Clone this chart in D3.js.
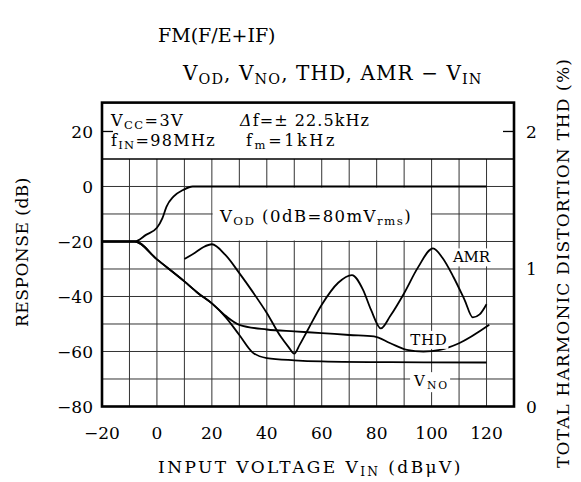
<!DOCTYPE html>
<html>
<head>
<meta charset="utf-8">
<script src="https://cdn.jsdelivr.net/npm/d3@7"></script>
<style>
  body { margin: 0; background: #fff; }
  text { font-family: "DejaVu Serif", serif; fill: #000; }
</style>
</head>
<body>
<svg id="chart" width="581" height="482"></svg>
<script>
// Input voltage axis (dBµV)
const xTicks = [-20, 0, 20, 40, 60, 80, 100, 120];
// Response axis (dB)
const yTicks = [20, 0, -20, -40, -60, -80];
// THD axis (%)
const thdTicks = [0, 1, 2];

// Detector output V_OD (dB, 0 dB = 80 mVrms)
const vodVin = [-20, -8, -4, 0, 2, 3.5, 6, 9.5, 13, 20, 40, 60, 80, 100, 120];
const vodDb  = [-20, -20, -17.6, -15, -11.5, -7.3, -3.7, -1.3, 0, 0, 0, 0, 0, 0, 0];

// Noise output V_NO (dB)
const vnoVin = [-20, -8, 0, 10, 15, 20, 25, 30, 35, 40, 50, 60, 85, 120];
const vnoDb  = [-20, -20, -26.5, -34.5, -38.8, -42.5, -47.5, -54, -60.5, -62.4, -63.2, -63.6, -63.9, -64];

// Total harmonic distortion THD (%)
const thdVin = [-20, -8, 0, 10, 15, 20, 25, 30, 40, 50, 60, 70, 79, 85, 91, 97, 103, 110, 121];
const thdPct = [1.2, 1.2, 1.07, 0.91, 0.824, 0.75, 0.66, 0.594, 0.56, 0.546, 0.534, 0.52, 0.51, 0.46, 0.412, 0.40, 0.412, 0.46, 0.594];

// AM rejection AMR (dB)
const amrVin = [10, 14, 17, 20, 25, 30, 35, 40, 45, 48, 50, 52, 55, 60, 66, 71, 75, 78, 81.5, 85, 90, 95, 100.5, 104, 108, 112, 115, 117.5, 120];
const amrDb  = [-26.4, -24, -22, -21, -25, -31.5, -38.5, -46, -54.5, -58.5, -60.8, -57.5, -52, -43, -35, -32.2, -37.5, -45, -51.6, -47, -38.8, -29.5, -22.5, -26, -33, -41.2, -47.6, -46.5, -42.8];

const svg = d3.select("#chart");

const x = d3.scaleLinear().domain([-20, 130]).range([102, 514]);
const y = d3.scaleLinear().domain([-80, 30.5]).range([406.5, 102.6]);
const yThd = d3.scaleLinear().domain([0, 2]).range([y(-80), y(20)]);

const frameL = x(-20), frameR = x(130), frameT = y(30.5), frameB = y(-80);

// Spread a text's glyphs so the run covers a given width
function fit(t, w) {
  const n = t.text().length;
  const cur = t.node().getComputedTextLength();
  t.attr("letter-spacing", ((w - cur) / n).toFixed(2));
  return t;
}

// Text with subscript pieces
function rich(g, parts, attrs) {
  const t = g.append("text");
  Object.entries(attrs).forEach(([k, v]) => t.attr(k, v));
  parts.forEach(p => {
    const s = t.append("tspan").text(p.t);
    if (p.sub) s.attr("font-size", "0.72em").attr("dy", "0.28em");
    if (p.back) s.attr("dy", "-0.2em");
    if (p.it) s.attr("font-style", "italic");
  });
  return t;
}

// Grid
const grid = svg.append("g").attr("stroke", "#333").attr("stroke-width", 1);
d3.range(-10, 130, 10).forEach(v => {
  grid.append("line").attr("x1", x(v)).attr("x2", x(v)).attr("y1", y(10)).attr("y2", frameB);
});
d3.range(-70, 10, 10).forEach(v => {
  grid.append("line").attr("x1", frameL).attr("x2", frameR).attr("y1", y(v)).attr("y2", y(v));
});
// Rule under the condition block
svg.append("line").attr("x1", frameL).attr("x2", frameR).attr("y1", y(10)).attr("y2", y(10))
  .attr("stroke", "#000").attr("stroke-width", 1.6);

// White panel behind the V_OD caption
svg.append("rect")
  .attr("x", x(20) + 0.8).attr("y", y(0) + 1)
  .attr("width", x(100) - x(20) - 1.6).attr("height", y(-20) - y(0) - 2)
  .attr("fill", "#fff");

// Frame
svg.append("rect").attr("x", frameL).attr("y", frameT).attr("width", frameR - frameL).attr("height", frameB - frameT)
  .attr("fill", "none").attr("stroke", "#000").attr("stroke-width", 2.6);

// Inward ticks at 20 dB / 2 %
svg.append("line").attr("x1", frameL).attr("x2", frameL + 11).attr("y1", y(20)).attr("y2", y(20)).attr("stroke", "#000").attr("stroke-width", 1.3);
svg.append("line").attr("x1", frameR - 11).attr("x2", frameR).attr("y1", yThd(2)).attr("y2", yThd(2)).attr("stroke", "#000").attr("stroke-width", 1.3);

// Tick labels
const fmt = v => (v < 0 ? "\u2212" + Math.abs(v) : String(v));
svg.append("g").selectAll("text").data(yTicks).join("text")
  .attr("x", frameL - 9).attr("y", d => y(d)).attr("dy", "0.36em")
  .attr("text-anchor", "end").attr("font-size", 17).text(fmt);
svg.append("g").selectAll("text").data(xTicks).join("text")
  .attr("x", d => x(d)).attr("y", frameB + 32)
  .attr("text-anchor", "middle").attr("font-size", 17).text(fmt);
svg.append("g").selectAll("text").data(thdTicks).join("text")
  .attr("x", frameR + 12).attr("y", d => yThd(d)).attr("dy", "0.36em")
  .attr("text-anchor", "start").attr("font-size", 17).text(String);

// Titles
svg.append("text").attr("x", 158).attr("y", 42).attr("font-size", 19).text("FM(F/E+IF)");
fit(rich(svg, [
  {t: "V"}, {t: "OD", sub: true}, {t: ",  V", back: true}, {t: "NO", sub: true},
  {t: ",  THD,  AMR  \u2212  V", back: true}, {t: "IN", sub: true}
], {x: 183, y: 80, "font-size": 20}), 305);

// Axis titles
fit(svg.append("text").attr("transform", `translate(28,252) rotate(-90)`)
  .attr("text-anchor", "middle").attr("font-size", 17).text("RESPONSE (dB)"), 150);
fit(svg.append("text").attr("transform", `translate(569,263) rotate(-90)`)
  .attr("text-anchor", "middle").attr("font-size", 17).text("TOTAL HARMONIC DISTORTION THD (%)"), 410);
fit(rich(svg, [
  {t: "INPUT  VOLTAGE  V"}, {t: "IN", sub: true}, {t: "  (dB\u03bcV)", back: true}
], {x: 158, y: 473, "font-size": 17}), 312);

// Conditions
fit(rich(svg, [{t: "V"}, {t: "CC", sub: true}, {t: "=3V", back: true}], {x: 111, y: 126, "font-size": 16}), 73);
fit(rich(svg, [{t: "f"}, {t: "IN", sub: true}, {t: "=98MHz", back: true}], {x: 111, y: 146, "font-size": 16}), 105);
fit(rich(svg, [{t: "\u0394", it: true}, {t: "f=\u00b1 22.5kHz"}], {x: 240, y: 126, "font-size": 16}), 130);
fit(rich(svg, [{t: "f"}, {t: "m", sub: true}, {t: "=1kHz", back: true}], {x: 246, y: 146, "font-size": 16}), 91);

// Curves
const line = d3.line().curve(d3.curveMonotoneX);
const curves = svg.append("g").attr("fill", "none").attr("stroke", "#000").attr("stroke-width", 1.8);
curves.append("path").attr("d", line(vodVin.map((v, i) => [x(v), y(vodDb[i])])));
curves.append("path").attr("d", line(vnoVin.map((v, i) => [x(v), y(vnoDb[i])])));
curves.append("path").attr("d", line(thdVin.map((v, i) => [x(v), yThd(thdPct[i])])));
curves.append("path").attr("d", line(amrVin.map((v, i) => [x(v), y(amrDb[i])])));

// Curve labels on white patches
function tag(parts, cx, cy, size, w) {
  const g = svg.append("g");
  const t = fit(rich(g, parts, {x: cx - w / 2, y: cy, "font-size": size}), w);
  const b = t.node().getBBox();
  g.insert("rect", "text").attr("x", b.x - 3).attr("y", b.y).attr("width", b.width + 4).attr("height", b.height).attr("fill", "#fff");
}
fit(rich(svg, [
  {t: "V"}, {t: "OD", sub: true}, {t: " (0dB=80mV", back: true}, {t: "rms", sub: true}, {t: ")", back: true}
], {x: 220, y: y(-12.9), "font-size": 16.5}), 192);
tag([{t: "AMR"}], x(114.5), y(-27.6), 15, 37);
tag([{t: "THD"}], x(99), y(-57.6), 15, 37);
tag([{t: "V"}, {t: "NO", sub: true}], x(100), y(-72.6), 15, 35);
</script>
</body>
</html>
